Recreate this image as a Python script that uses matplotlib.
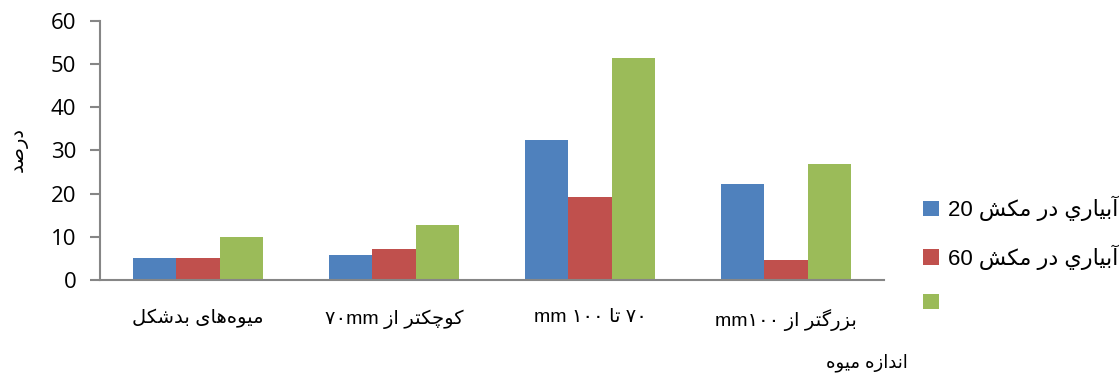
import numpy as np
import matplotlib
matplotlib.use("Agg")
import matplotlib.pyplot as plt

# حروف فارسی: (جدا، پایانی، آغازی، میانی) از بلوک Presentation Forms
FORMS = {
    'ا': (0xFE8D, 0xFE8E, None, None),
    'آ': (0xFE81, 0xFE82, None, None),
    'ب': (0xFE8F, 0xFE90, 0xFE91, 0xFE92),
    'ت': (0xFE95, 0xFE96, 0xFE97, 0xFE98),
    'د': (0xFEA9, 0xFEAA, None, None),
    'ر': (0xFEAD, 0xFEAE, None, None),
    'ز': (0xFEAF, 0xFEB0, None, None),
    'ش': (0xFEB5, 0xFEB6, 0xFEB7, 0xFEB8),
    'ص': (0xFEB9, 0xFEBA, 0xFEBB, 0xFEBC),
    'ل': (0xFEDD, 0xFEDE, 0xFEDF, 0xFEE0),
    'م': (0xFEE1, 0xFEE2, 0xFEE3, 0xFEE4),
    'ن': (0xFEE5, 0xFEE6, 0xFEE7, 0xFEE8),
    'ه': (0xFEE9, 0xFEEA, 0xFEEB, 0xFEEC),
    'و': (0xFEED, 0xFEEE, None, None),
    'ي': (0xFEF1, 0xFEF2, 0xFEF3, 0xFEF4),
    'ی': (0xFBFC, 0xFBFD, 0xFBFE, 0xFBFF),
    'ک': (0xFB8E, 0xFB8F, 0xFB90, 0xFB91),
    'گ': (0xFB92, 0xFB93, 0xFB94, 0xFB95),
    'چ': (0xFB7A, 0xFB7B, 0xFB7C, 0xFB7D),
}


def rtl(s):
    out = []
    for i, c in enumerate(s):
        if c not in FORMS:
            if c != '\u200c':
                out.append(c)
            continue
        prev = s[i - 1] if i > 0 else ''
        nxt = s[i + 1] if i + 1 < len(s) else ''
        f = FORMS[c]
        jp = prev in FORMS and FORMS[prev][2] is not None
        jn = f[2] is not None and nxt in FORMS
        if jp and jn:
            code = f[3]
        elif jp:
            code = f[1]
        elif jn:
            code = f[2]
        else:
            code = f[0]
        out.append(chr(code))
    return ''.join(reversed(out))


categories = [
    rtl('میوه\u200cهای بدشکل'),
    '۷۰mm ' + rtl('کوچکتر از'),
    'mm ۱۰۰ ' + rtl('تا') + ' ۷۰',
    'mm۱۰۰ ' + rtl('بزرگتر از'),
]
series_names = ['20 ' + rtl('آبياري در مکش'), '60 ' + rtl('آبياري در مکش'), ' ']
suction_20 = [5.0, 5.8, 32.4, 22.2]
suction_60 = [5.2, 7.1, 19.2, 4.6]
third = [10.0, 12.7, 51.4, 26.8]
yticks = [0, 10, 20, 30, 40, 50, 60]

colors = ['#4F81BD', '#C0504D', '#9BBB59']
grey = '#868686'
arabic = ['Liberation Sans', 'DejaVu Sans']

fig = plt.figure(figsize=(11.19, 3.73), dpi=100)
ax = fig.add_axes([0.0894, 0.2493, 0.7006, 0.6952])

x = np.arange(len(categories))
w = 0.222
bars = []
for k, vals in enumerate([suction_20, suction_60, third]):
    bars.append(ax.bar(x + (k - 1) * w, vals, w, color=colors[k], zorder=2))

ax.set_xlim(-0.5, len(categories) - 0.5)
ax.set_ylim(0, 60)
ax.set_yticks(yticks)
ax.set_xticks(x)
ax.set_xticklabels(categories, fontsize=14, family=arabic)
ax.tick_params(axis='x', length=0, pad=21)
ax.tick_params(axis='y', length=7, width=1.5, color=grey, pad=10, labelsize=16)
for lab in ax.get_yticklabels():
    lab.set_family('Open Sans')
for side in ['top', 'right']:
    ax.spines[side].set_visible(False)
for side in ['left', 'bottom']:
    ax.spines[side].set_color(grey)
    ax.spines[side].set_linewidth(1.5)

fig.text(0.017, 0.598, rtl('درصد'), rotation=90, fontsize=14, family=arabic,
         ha='center', va='center')
fig.text(0.775, 0.027, rtl('اندازه میوه'), fontsize=13, family=arabic,
         ha='center', va='center')

ax.legend(bars, series_names, loc='upper left', bbox_to_anchor=(0.825, 0.475),
          bbox_transform=fig.transFigure, frameon=False, prop={'family': arabic, 'size': 16},
          handlelength=0.7, handleheight=0.7, handletextpad=0.4, labelspacing=1.05,
          borderpad=0, borderaxespad=0)

fig.savefig('out.png', dpi=100)
